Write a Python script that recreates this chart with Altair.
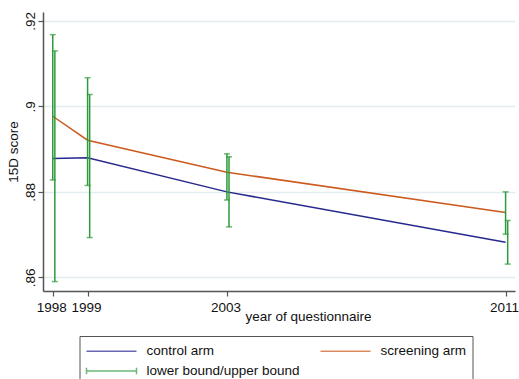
import altair as alt
import pandas as pd

# ---- data ----
years = [1998, 1999, 2003, 2011]
control_mean = [0.8878, 0.8880, 0.8800, 0.8682]
screening_mean = [0.8977, 0.8921, 0.8846, 0.8752]
screening_lo = [0.8828, 0.8815, 0.8781, 0.8701]
screening_hi = [0.9168, 0.9067, 0.8889, 0.8800]
control_lo = [0.8590, 0.8693, 0.8718, 0.8631]
control_hi = [0.9130, 0.9028, 0.8882, 0.8733]
series_names = ["control arm", "screening arm", "lower bound/upper bound"]
series_colors = ["#26288c", "#cc5a1e", "#2e9a3c"]
y_ticks = [0.86, 0.88, 0.90, 0.92]
ctrl_dodge = 0.06  # small horizontal dodge of control-arm bars (years)

FONT = "Liberation Sans"

lines_df = pd.DataFrame(
    {"year": years * 2,
     "score": control_mean + screening_mean,
     "series": [series_names[0]] * 4 + [series_names[1]] * 4}
)

ci_x = years + [y + ctrl_dodge for y in years]
ci_df = pd.DataFrame(
    {"x": ci_x,
     "lo": screening_lo + control_lo,
     "hi": screening_hi + control_hi,
     "series": [series_names[2]] * 8}
)
caps_df = pd.DataFrame(
    {"x": ci_x * 2,
     "y": screening_lo + control_lo + screening_hi + control_hi,
     "series": [series_names[2]] * 16}
)
legend_df = pd.DataFrame(
    {"year": [years[0]] * 3,
     "score": [control_mean[0]] * 3,
     "series": series_names}
)

x_scale = alt.Scale(domain=[1997.72, 2011.27], nice=False, zero=False)
y_scale = alt.Scale(domain=[0.8568, 0.9221], nice=False, zero=False)
color_scale = alt.Scale(domain=series_names, range=series_colors)
line_path = "M-1,0H5.25"
cap_path = "M-1,0H5.25M-1,-0.4V0.4M5.25,-0.4V0.4"
shape_scale = alt.Scale(domain=series_names, range=[line_path, line_path, cap_path])

x_axis = alt.Axis(
    values=years, format="d", grid=False,
    title="year of questionnaire", titleX=265, titleY=29,
    titleBaseline="alphabetic", titleAlign="center",
    titleFont=FONT, titleFontSize=13.5, titleFontWeight="normal", titleColor="#111",
    labelFont=FONT, labelFontSize=13.5, labelColor="#111", labelPadding=4,
    labelOffset=-1.5,
    tickSize=5, tickColor="#555", tickWidth=1.2,
    domainColor="#555", domainWidth=1.5, labelFlush=False, labelOverlap=False,
)
y_axis = alt.Axis(
    values=y_ticks, grid=True, gridColor="#e3edef", gridWidth=1.5,
    labelExpr="substring(format(datum.value, '.2~f'), 1)",
    labelAngle=270, labelAlign="center", labelBaseline="alphabetic",
    labelFont=FONT, labelFontSize=13.5, labelColor="#111", labelPadding=4,
    tickSize=5, tickColor="#555", tickWidth=1.2,
    domainColor="#555", domainWidth=1.5,
    title="15D score", titleAngle=270, titleX=-30, titleY=139.5,
    titleBaseline="middle", titleAlign="center",
    titleFont=FONT, titleFontSize=13.5, titleFontWeight="normal", titleColor="#111",
)

lines = alt.Chart(lines_df).mark_line(strokeWidth=1.5).encode(
    x=alt.X("year:Q", scale=x_scale, axis=x_axis),
    y=alt.Y("score:Q", scale=y_scale, axis=y_axis),
    color=alt.Color("series:N", scale=color_scale, title=None),
    detail="series:N",
)

bars = alt.Chart(ci_df).mark_rule(strokeWidth=1.5).encode(
    x=alt.X("x:Q", scale=x_scale),
    y=alt.Y("lo:Q", scale=y_scale),
    y2="hi:Q",
    color=alt.Color("series:N", scale=color_scale, title=None),
)

caps = alt.Chart(caps_df).mark_tick(orient="horizontal", size=6, thickness=1.5).encode(
    x=alt.X("x:Q", scale=x_scale),
    y=alt.Y("y:Q", scale=y_scale),
    color=alt.Color("series:N", scale=color_scale, title=None),
)

legend_layer = alt.Chart(legend_df).mark_point(opacity=0, filled=False).encode(
    x=alt.X("year:Q", scale=x_scale),
    y=alt.Y("score:Q", scale=y_scale),
    color=alt.Color(
        "series:N", scale=color_scale, title=None,
        legend=alt.Legend(
            orient="none", legendX=36.5, legendY=324, columns=2,
            direction="horizontal",
            columnPadding=17, rowPadding=4, padding=6,
            strokeColor="#555", fillColor="white",
            symbolSize=256, symbolStrokeWidth=1.5, symbolOpacity=1,
            labelOffset=43, labelFont=FONT, labelFontSize=13.5,
            labelColor="#111", labelLimit=300,
        ),
    ),
    shape=alt.Shape("series:N", scale=shape_scale, title=None),
)

chart = alt.layer(lines, bars, caps, legend_layer).properties(
    width=472, height=279,
    autosize=alt.AutoSizeParams(type="none"),
    padding={"left": 43, "top": 12, "right": 4, "bottom": 88},
    background="white",
).configure_view(strokeWidth=0)

chart.save("out.html", embed_options={"renderer": "svg", "actions": False})
